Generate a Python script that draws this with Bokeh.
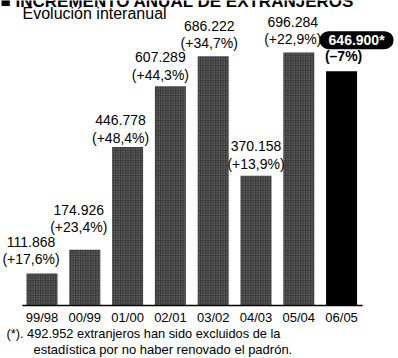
from bokeh.plotting import figure
from bokeh.models import Range1d, ColumnDataSource, Label
from bokeh.core.properties import value
from bokeh.embed import file_html
from bokeh.resources import INLINE

# ---- data ----
periods = ["99/98", "00/99", "01/00", "02/01", "03/02", "04/03", "05/04", "06/05"]
totals = [111868, 174926, 446778, 607289, 686222, 370158, 696284, 646900]
total_labels = ["111.868", "174.926", "446.778", "607.289", "686.222", "370.158", "696.284", "646.900*"]
change_labels = ["(+17,6%)", "(+23,4%)", "(+48,4%)", "(+44,3%)", "(+34,7%)", "(+13,9%)", "(+22,9%)", "(–7%)"]

title = "■ INCREMENTO ANUAL DE EXTRANJEROS"
subtitle = "Evolución interanual"
note1 = "(*). 492.952 extranjeros han sido excluidos de la"
note2 = "estadística por no haber renovado el padrón."

# ---- layout / style ----
W, H = 398, 358
Y_BASE = 27000
FONT = "Liberation Sans"
GREY = "#3a3a3a"
n = len(periods)
xs = list(range(n))

p = figure(width=W, height=H, output_backend="svg", toolbar_location=None,
           x_range=Range1d(-0.97, 8.33), y_range=Range1d(-113000, 834000),
           x_axis_location=None, y_axis_location=None, min_border=0,
           outline_line_color=None)
p.grid.visible = False
p.background_fill_color = "white"
p.border_fill_color = "white"

# bars
bar_src = ColumnDataSource(dict(
    x=xs, top=totals,
    color=[GREY] * (n - 1) + ["black"],
    hatch=["dot"] * (n - 1) + [" "],
))
p.vbar(x="x", top="top", bottom=Y_BASE, width=0.724, source=bar_src,
       fill_color="color", line_color=None,
       hatch_pattern="hatch", hatch_color="white", hatch_alpha=0.4,
       hatch_scale=2.5, hatch_weight=1)

# baseline
p.segment(x0=[-0.46], y0=[Y_BASE], x1=[n - 0.51], y1=[Y_BASE],
          line_color="black", line_width=1.5)

# value labels (first n-1 bars)
x_off = [-11, -6, -7, -10, -4, 0, -6]
y_off = [-23, -31, -18, -20, -22, -21, -22]
lab_src = ColumnDataSource(dict(
    x=xs[:-1], y=totals[:-1],
    text=[f"{a}\n{b}" for a, b in zip(total_labels[:-1], change_labels[:-1])],
    xo=x_off, yo=y_off,
))
p.text(x="x", y="y", text="text", source=lab_src, x_offset="xo", y_offset="yo",
       text_align="center", text_baseline="middle", text_font=value(FONT),
       text_font_size="14px", text_line_height=1.1, text_color="black")

# last bar: highlighted pill + bold change
p.text(x=[xs[-1]], y=[totals[-1]], text=[total_labels[-1]], x_offset=15, y_offset=-31,
       text_align="center", text_baseline="middle", text_font=value(FONT),
       text_font_size="14px", text_font_style="bold", text_color="white",
       background_fill_color="black", border_radius=9, padding=[9, 1])
p.text(x=[xs[-1]], y=[totals[-1]], text=[change_labels[-1]], x_offset=2, y_offset=-15,
       text_align="center", text_baseline="middle", text_font=value(FONT),
       text_font_size="14px", text_font_style="bold", text_color="black")

# category labels
p.text(x=xs, y=[Y_BASE] * n, text=periods, y_offset=12,
       text_align="center", text_baseline="middle", text_font=value(FONT),
       text_font_size="13px", text_color="black")

# titles and notes
p.add_layout(Label(x=0, y=H - 1, x_units="screen", y_units="screen", text=title,
                   text_font=FONT, text_font_size="17px", text_font_style="bold",
                   text_baseline="alphabetic", text_color="black"))
p.add_layout(Label(x=22, y=H - 13, x_units="screen", y_units="screen", text=subtitle,
                   text_font=FONT, text_font_size="16px",
                   text_baseline="middle", text_color="black"))
p.add_layout(Label(x=6, y=H - 333, x_units="screen", y_units="screen", text=note1,
                   text_font=FONT, text_font_size="12.8px",
                   text_baseline="middle", text_color="black"))
p.add_layout(Label(x=33, y=H - 349, x_units="screen", y_units="screen", text=note2,
                   text_font=FONT, text_font_size="13px",
                   text_baseline="middle", text_color="black"))

open("out.html", "w").write(file_html(p, INLINE))
